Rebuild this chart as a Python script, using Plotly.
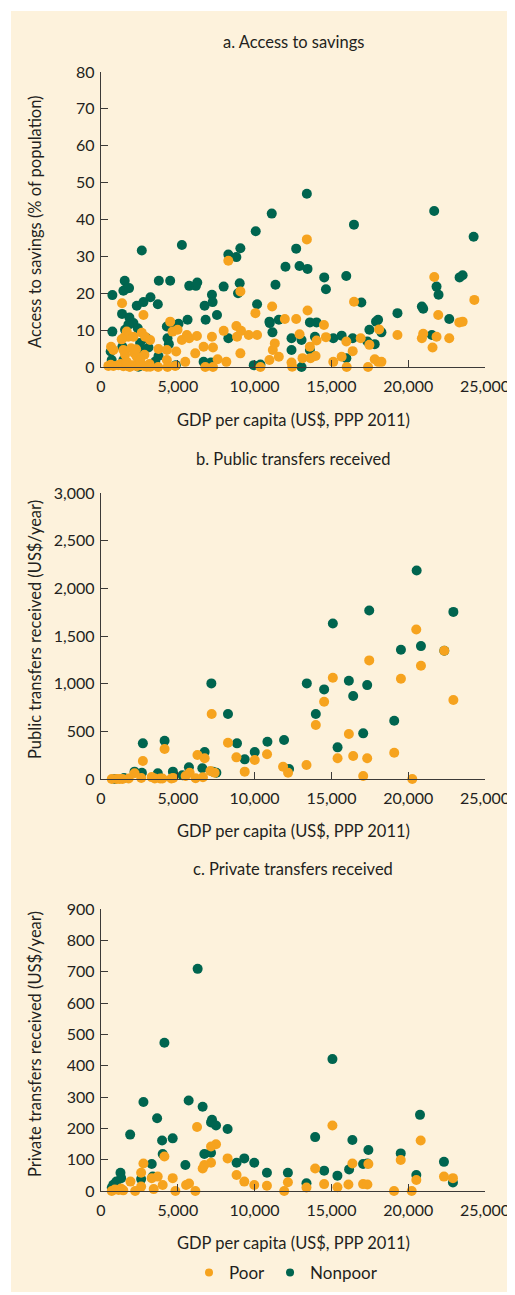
import plotly.graph_objects as go

W, H = 507, 1287
OFF = 8  # page body margin offset

# ---------------- data ----------------
# Panel a: Access to savings (% of population)
a_poor_x = [653, 805, 479, 631, 805, 1131, 1284, 1458, 1676, 1850, 2067, 2329, 2546, 2981, 3155,
            1371, 1545, 1676, 1784, 1458, 1567, 1959, 2176, 2329, 2655, 2764, 2872, 3199, 2829, 2546,
            1893, 2807, 3199, 3743, 3721, 4287, 4504, 4657, 4896, 4983, 5265, 5484, 5592, 5745, 6245,
            6136, 6680, 6790, 7224, 7290, 7290, 7594, 8160, 7986, 8813, 8857, 9074, 9074, 9118, 9618,
            10053, 10162, 10380, 10967, 11141, 11185, 11315, 11577, 11968, 12403, 12447, 12708, 12926,
            13448, 13600, 13121, 13644, 13970, 14035, 14514, 14645, 15123, 15667, 15972, 15994, 16386,
            16473, 16908, 17386, 17474, 17821, 18039, 18257, 18104, 19301, 20890, 20977, 21586, 21697,
            21845, 21955, 22672, 23326, 23544, 24306, 8290, 13402, 2111, 2285, 1349, 1676, 4287, 4330, 4831]
a_poor_y = [5.5, 4.6, 0.3, 0.6, 0.3, 0.5, 0.8, 0.2, 0.5, 0.1, 0.5, 0.2, 0.5, 0.1, 0.8,
            17.3, 8.2, 9.6, 8.2, 4.6, 3.3, 5.1, 3.7, 2.8, 9.3, 14.1, 8.2, 7.3, 3.3, 1.9,
            0.1, 0.3, 0.1, 4.9, 0.0, 4.6, 12.3, 9.6, 4.2, 10.1, 7.3, 1.4, 8.7, 7.8, 8.4,
            3.7, 5.5, 0.0, 8.2, 5.3, 0.0, 2.1, 1.4, 9.8, 11.1, 8.2, 20.5, 3.7, 9.8, 8.7,
            14.6, 8.7, 0.0, 1.9, 16.4, 4.6, 6.4, 2.8, 13.0, 1.2, 0.1, 13.0, 8.9,
            15.3, 5.5, 2.4, 2.4, 3.0, 7.2, 11.4, 8.1, 1.4, 2.8, 6.9, 0.0, 4.3,
            17.7, 7.8, 0.0, 6.0, 2.1, 1.4, 1.4, 10.2, 8.7, 7.8, 9.0, 5.3, 24.4,
            8.2, 14.1, 7.8, 12.1, 12.3, 18.2, 28.8, 34.6, 8.2, 4.8, 7.5, 1.4, 1.9, 0.0, 0.3]

a_nonpoor_x = [2656, 5267, 8290, 8812, 9073, 10073, 11117, 12707, 13402, 12010, 12924, 13446, 14533,
               15969, 16469, 21691, 23346, 23542, 24260,
               740, 740, 631, 696, 1371, 1545, 1458, 1654, 1828, 1567, 1850, 2111, 2329, 2764, 3221,
               3699, 3765, 4504, 2394, 2764, 3090, 2437, 1393, 4287, 4548, 5048, 4330, 4417, 4874, 3743,
               5636, 5745, 6180, 6267, 6746, 6812, 7224, 7268, 7551, 7986, 9030, 8922, 8291, 10162,
               10380, 10967, 10989, 11163, 11359, 11577, 12403, 12403, 13056, 13056, 13600, 14035,
               13927, 13600, 14645, 15123, 15667, 15972, 16386, 16951, 17474, 17906, 18039, 18257,
               17821, 17343, 19301, 20890, 20977, 21540, 21845, 21976, 22672, 1458, 2329, 6680, 7159,
               9945, 2980, 1784, 2546, 3530]
a_nonpoor_y = [31.6, 33.1, 30.5, 29.8, 32.2, 36.8, 41.6, 32.1, 47.0, 27.2, 27.4, 26.6, 24.3,
               24.7, 38.6, 42.3, 24.3, 24.9, 35.3,
               19.5, 9.6, 4.2, 1.9, 14.4, 23.4, 20.7, 21.2, 21.4, 10.1, 13.4, 11.9, 16.6, 17.6, 18.9,
               17.0, 23.4, 23.4, 10.5, 4.6, 5.3, 0.1, 5.5, 11.0, 11.0, 11.7, 7.8, 6.2, 0.5, 3.0,
               12.8, 22.0, 22.0, 22.9, 16.6, 12.8, 19.6, 17.6, 14.1, 21.8, 22.7, 20.0, 7.8, 17.0,
               0.7, 12.3, 11.9, 9.4, 22.3, 12.8, 7.8, 4.6, 7.3, 0.0, 12.1, 12.1,
               8.2, 4.6, 21.1, 7.8, 8.5, 2.4, 7.8, 17.5, 10.1, 12.3, 12.8, 9.4,
               6.2, 6.9, 14.6, 16.4, 15.8, 8.7, 21.8, 19.6, 13.0, 1.9, 0.5, 1.4, 1.2,
               0.5, 7.8, 11.5, 6.5, 1.5]

# Panel b: Public transfers received (US$/year)
b_poor_x = [20525, 20831, 22350, 17463, 15093, 19527, 14527, 22940, 7205, 13985, 16137, 8267, 4140,
            2725, 8815, 10008, 10810, 9356, 11853, 12179, 13379, 15401, 16417, 17330, 17070, 19090,
            20264, 6279, 6748, 6637, 7120, 7400, 5770, 5509, 6161, 4700, 4580, 3500, 3850, 4000,
            2620, 2184, 1800, 700, 1000, 1400, 1200, 3300]
b_poor_y = [1569, 1188, 1345, 1244, 1062, 1051, 810, 828, 681, 566, 472, 381, 314,
            189, 227, 199, 259, 77, 129, 66, 147, 217, 241, 217, 31, 276,
            0, 251, 217, 18, 84, 66, 66, 31, 7, 10, 5, 5, 5, 5,
            10, 60, 5, 0, 0, 0, 0, 20]
b_nonpoor_x = [20550, 17463, 22940, 15093, 19527, 20831, 22350, 7185, 13399, 14527, 16137, 17330,
               16417, 13985, 8267, 19090, 17070, 15401, 2725, 4140, 8854, 10835, 11918, 10008, 9356,
               6748, 6598, 12243, 5724, 4681, 3699, 2184, 2664, 7290, 7511, 1500, 900, 5300]
b_nonpoor_y = [2187, 1768, 1753, 1632, 1355, 1394, 1345, 1003, 1003, 940, 1030, 985,
               870, 681, 681, 611, 479, 332, 374, 401, 374, 391, 409, 283, 206,
               283, 112, 105, 123, 77, 60, 77, 66, 77, 66, 10, 0, 40]

# Panel c: Private transfers received (US$/year)
c_poor_x = [6253, 15067, 20813, 7488, 7163, 7163, 6617, 6728, 4128, 2763, 2613, 1918, 3302, 3692,
            4667, 4017, 3432, 2613, 2223, 4843, 5538, 5733, 6143, 8242, 8827, 9328, 9978, 10803,
            11928, 12168, 13377, 13943, 14528, 15392, 16108, 16367, 17063, 17343, 17408, 19078,
            19513, 20228, 20530, 22328, 22913, 700, 900, 1300, 1450, 1150]
c_poor_y = [204, 209, 161, 149, 142, 90, 72, 83, 110, 88, 58, 30, 41, 46,
            41, 19, 6, 14, 0, 0, 19, 24, 0, 104, 51, 30, 19, 17,
            0, 28, 11, 72, 22, 12, 21, 88, 22, 21, 86, 0,
            99, 0, 35, 46, 41, 0, 5, 8, 2, 3]
c_nonpoor_x = [6292, 4128, 15067, 2763, 5707, 6617, 20768, 3653, 7228, 7163, 7488, 8242, 1898, 3978,
               4667, 4017, 3302, 2613, 3367, 1268, 1313, 1000, 800, 700, 5493, 6728, 7163, 8827,
               9328, 9978, 10803, 12168, 13377, 13943, 14528, 15392, 16153, 16367, 17063, 17408,
               17343, 19513, 20530, 22328, 22913]
c_nonpoor_y = [709, 473, 421, 284, 289, 269, 243, 232, 227, 219, 209, 198, 180, 161,
               168, 118, 86, 38, 46, 58, 41, 30, 20, 10, 83, 118, 122, 90,
               104, 90, 58, 58, 25, 172, 65, 49, 69, 163, 86, 131,
               88, 120, 51, 93, 27]

x_ticks = [0, 5000, 10000, 15000, 20000, 25000]
titles = ["a. Access to savings", "b. Public transfers received", "c. Private transfers received"]
y_titles = ["Access to savings (% of population)", "Public transfers received (US$/year)",
            "Private transfers received (US$/year)"]
x_title = "GDP per capita (US$, PPP 2011)"
y_ranges = [[0, 80], [0, 3000], [0, 900]]
y_dticks = [10, 500, 100]
series_names = ["Poor", "Nonpoor"]

# ---------------- style ----------------
ORANGE = "#F6A31E"
GREEN = "#00654F"
CREAM = "#FDF2DC"
TEXT = "#231F20"
AXIS = "#3C3A38"
FONT = "Lato"

def px_x(p):
    return (p - OFF) / W

def px_y(p):
    return 1 - (p - OFF) / H

x_dom = [px_x(101), px_x(485)]
y_doms = [[px_y(367), px_y(72)], [px_y(779), px_y(493)], [px_y(1191), px_y(909)]]

fig = go.Figure()

data = [
    (a_poor_x, a_poor_y, a_nonpoor_x, a_nonpoor_y),
    (b_poor_x, b_poor_y, b_nonpoor_x, b_nonpoor_y),
    (c_poor_x, c_poor_y, c_nonpoor_x, c_nonpoor_y),
]

for i, (px_, py_, nx_, ny_) in enumerate(data):
    xa = "x" if i == 0 else f"x{i+1}"
    ya = "y" if i == 0 else f"y{i+1}"
    fig.add_trace(go.Scatter(x=nx_, y=ny_, mode="markers", xaxis=xa, yaxis=ya,
                             marker=dict(color=GREEN, size=10, line=dict(width=0)),
                             cliponaxis=False, showlegend=False, hoverinfo="skip"))
    fig.add_trace(go.Scatter(x=px_, y=py_, mode="markers", xaxis=xa, yaxis=ya,
                             marker=dict(color=ORANGE, size=10, line=dict(width=0)),
                             cliponaxis=False, showlegend=False, hoverinfo="skip"))

# legend-only traces
fig.add_trace(go.Scatter(x=[None], y=[None], mode="markers", name=series_names[0],
                         marker=dict(color=ORANGE, size=8), legendrank=1))
fig.add_trace(go.Scatter(x=[None], y=[None], mode="markers", name=series_names[1],
                         marker=dict(color=GREEN, size=8), legendrank=2))

axis_common = dict(showline=True, linecolor=AXIS, linewidth=1.4, ticks="inside", ticklen=7,
                   tickwidth=1.3, tickcolor=AXIS, showgrid=False, zeroline=False, automargin=False,
                   tickfont=dict(family=FONT, size=16, color=TEXT), fixedrange=True)

layout = dict(
    width=W, height=H, margin=dict(l=0, r=0, t=0, b=0, pad=0, autoexpand=False),
    paper_bgcolor="white", plot_bgcolor="rgba(0,0,0,0)",
    font=dict(family=FONT, color=TEXT),
    showlegend=True,
    legend=dict(orientation="h", xref="container", yref="container",
                x=px_x(286), xanchor="center", y=px_y(1273), yanchor="middle",
                font=dict(family=FONT, size=17, color=TEXT), bgcolor="rgba(0,0,0,0)",
                itemwidth=30, tracegroupgap=0),
)
for i in range(3):
    suf = "" if i == 0 else str(i + 1)
    layout["xaxis" + suf] = dict(axis_common, domain=x_dom, anchor="y" + suf, range=[0, 25000],
                                 tickvals=x_ticks, tickformat=",d", ticklabelstandoff=5)
    layout["yaxis" + suf] = dict(axis_common, domain=y_doms[i], anchor="x" + suf, range=y_ranges[i],
                                 dtick=y_dticks[i], tick0=0, tickformat=",d", ticklabelstandoff=2)
fig.update_layout(**layout)

fig.add_shape(type="rect", xref="paper", yref="paper", x0=px_x(11), x1=1.0, y0=px_y(1292), y1=px_y(11),
              fillcolor=CREAM, line=dict(width=0), layer="below")

title_y = [42, 459, 869]
xt_y = [420, 831, 1243]
yt_y = [222, 630, 1044]
for i in range(3):
    fig.add_annotation(text=titles[i], xref="paper", yref="paper", x=px_x(293), y=px_y(title_y[i]),
                       showarrow=False, xanchor="center", yanchor="middle",
                       font=dict(family=FONT, size=16.5, color=TEXT))
    fig.add_annotation(text=x_title, xref="paper", yref="paper", x=px_x(293), y=px_y(xt_y[i]),
                       showarrow=False, xanchor="center", yanchor="middle",
                       font=dict(family=FONT, size=16.5, color=TEXT))
    fig.add_annotation(text=y_titles[i], xref="paper", yref="paper", x=px_x(35), y=px_y(yt_y[i]),
                       showarrow=False, xanchor="center", yanchor="middle", textangle=-90,
                       font=dict(family=FONT, size=16.5, color=TEXT))

fig.write_html("out.html")
